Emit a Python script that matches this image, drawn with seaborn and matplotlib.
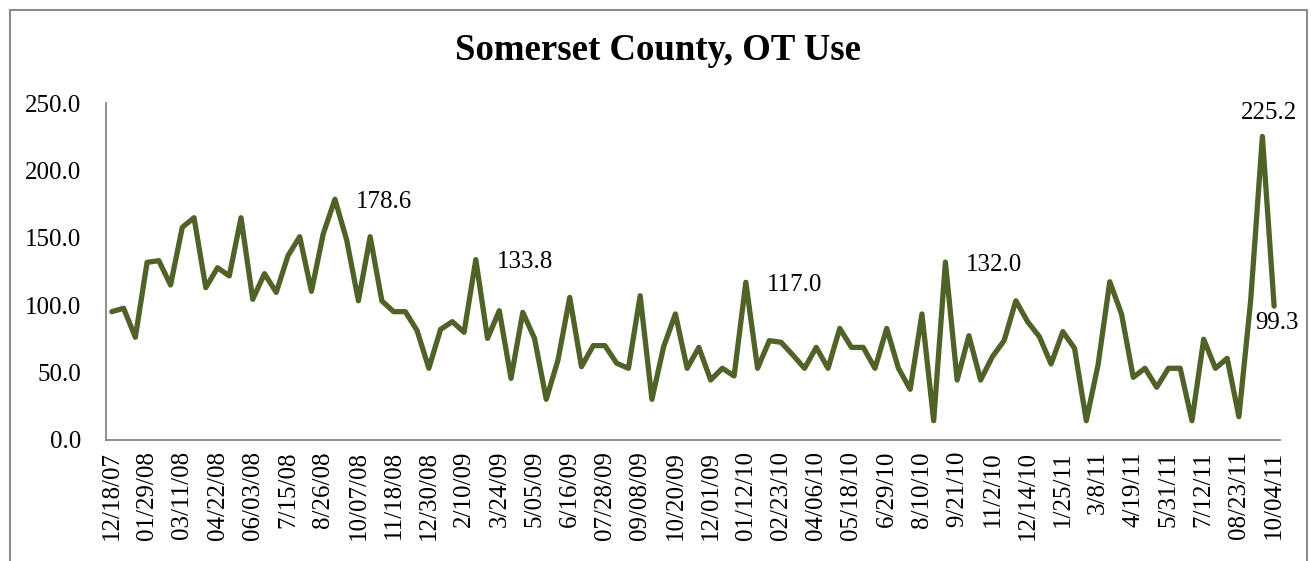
import numpy as np
import pandas as pd
import matplotlib.pyplot as plt
import seaborn as sns
from matplotlib.patches import Rectangle

# biweekly OT use, 12/18/07 .. 10/18/11
ot_use = [95.2, 97.7, 76.2, 131.8, 133.0, 115.0, 157.8, 164.9, 113.0, 127.8,
          121.7, 164.9, 104.4, 123.4, 109.5, 136.7, 150.8, 110.3, 152.8, 178.6,
          148.4, 103.3, 150.8, 103.2, 95.2, 95.2, 81.1, 53.2, 82.1, 87.8,
          79.9, 133.8, 75.4, 95.9, 45.7, 94.7, 75.4, 30.2, 59.3, 105.8,
          54.4, 70.0, 70.0, 56.9, 53.2, 107.0, 30.2, 69.2, 93.5, 53.2,
          68.7, 44.5, 53.2, 47.5, 117.0, 53.2, 73.7, 72.5, 63.1, 53.2,
          68.7, 53.2, 82.8, 68.7, 68.7, 53.2, 82.8, 53.2, 37.6, 93.5,
          14.3, 132.0, 44.5, 77.4, 44.5, 61.8, 73.7, 103.3, 87.8, 76.7,
          56.4, 80.4, 68.0, 14.3, 55.6, 117.4, 93.5, 46.5, 53.2, 39.1,
          53.2, 53.2, 14.3, 74.7, 53.2, 60.6, 17.3, 103.3, 225.2, 99.3]

date_labels = ['12/18/07', '01/29/08', '03/11/08', '04/22/08', '06/03/08', '7/15/08',
               '8/26/08', '10/07/08', '11/18/08', '12/30/08', '2/10/09', '3/24/09',
               '5/05/09', '6/16/09', '07/28/09', '09/08/09', '10/20/09', '12/01/09',
               '01/12/10', '02/23/10', '04/06/10', '05/18/10', '6/29/10', '8/10/10',
               '9/21/10', '11/2/10', '12/14/10', '1/25/11', '3/8/11', '4/19/11',
               '5/31/11', '7/12/11', '08/23/11', '10/04/11']

labelled_points = [19, 31, 54, 71, 98, 99]
y_ticks = [0, 50, 100, 150, 200, 250]

sns.set_style("white")
plt.rcParams['font.family'] = ['Liberation Serif', 'DejaVu Serif']
plt.rcParams['text.color'] = 'black'
plt.rcParams['xtick.color'] = 'black'
plt.rcParams['ytick.color'] = 'black'

fig = plt.figure(figsize=(13.11, 5.61), dpi=100)
ax = fig.add_axes([106 / 1311, 121 / 561, 1174 / 1311, 337 / 561])

df = pd.DataFrame({'week': np.arange(len(ot_use)), 'ot': ot_use})
sns.lineplot(data=df, x='week', y='ot', ax=ax, color='#4F6228', linewidth=3.8)

ax.set_xlim(-0.5, len(ot_use) - 0.5)
ax.set_ylim(0, 250)
ax.set_yticks(y_ticks)
ax.set_yticklabels([f'{v:.1f}' for v in y_ticks], fontsize=18)
ax.set_xticks(np.arange(0, len(ot_use), 3))
ax.set_xticklabels(date_labels, rotation=90, fontsize=18)
ax.tick_params(axis='y', length=0, pad=18)
ax.tick_params(axis='x', length=0, pad=8)
ax.set_xlabel('')
ax.set_ylabel('')
for s in ['top', 'right']:
    ax.spines[s].set_visible(False)
for s in ['left', 'bottom']:
    ax.spines[s].set_color('#868686')
    ax.spines[s].set_linewidth(1.3)

# data labels like the excel ones
for i in labelled_points:
    v = ot_use[i]
    if i == 98:
        ax.annotate(f'{v:.1f}', (i, v), xytext=(5, 9), textcoords='offset points',
                    ha='center', va='bottom', fontsize=18)
    elif i == 99:
        ax.annotate(f'{v:.1f}', (i, v), xytext=(2, -4), textcoords='offset points',
                    ha='center', va='top', fontsize=18)
    else:
        ax.annotate(f'{v:.1f}', (i, v), xytext=(15, -2), textcoords='offset points',
                    ha='left', va='center', fontsize=18)

fig.text(658 / 1311, 1 - 50 / 561, 'Somerset County, OT Use', fontsize=26.5,
         fontweight='bold', ha='center', va='center')

frame = Rectangle((10 / 1311, -0.05), 1297 / 1311, 1 - 10 / 561 + 0.05,
                  transform=fig.transFigure, fill=False, edgecolor='#8c8c8c',
                  linewidth=1.5, clip_on=False)
fig.patches.append(frame)

plt.savefig('out.png', dpi=100)
